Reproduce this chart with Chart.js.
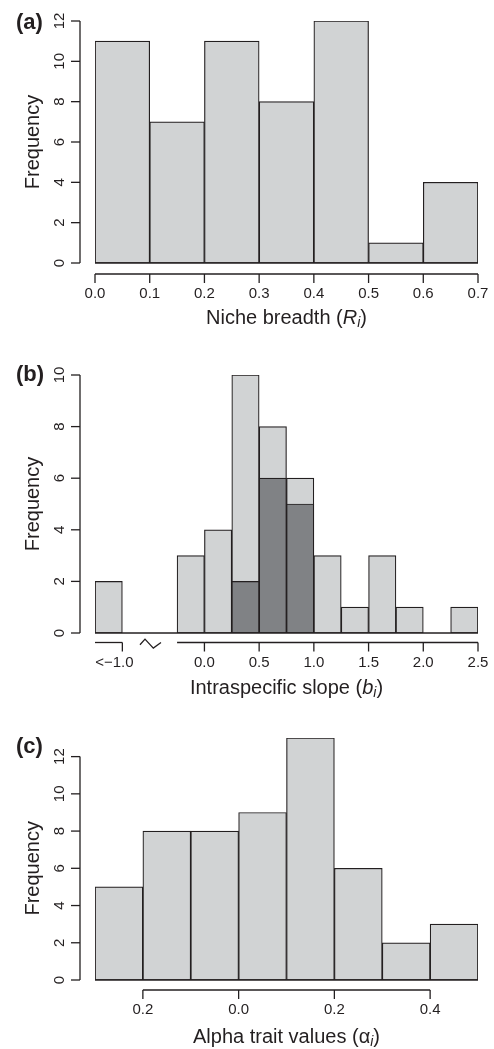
<!DOCTYPE html>
<html>
<head>
<meta charset="utf-8">
<script src="https://cdn.jsdelivr.net/npm/chart.js@4.4.1/dist/chart.umd.min.js"></script>
<style>
  body { margin: 0; background: #fff; }
  .panel { position: absolute; left: 0; width: 494px; }
</style>
</head>
<body>
<div class="panel" style="top:0;height:340px"><canvas id="chartA" width="494" height="340"></canvas></div>
<div class="panel" style="top:340px;height:360px"><canvas id="chartB" width="494" height="360"></canvas></div>
<div class="panel" style="top:700px;height:349px"><canvas id="chartC" width="494" height="349"></canvas></div>
<script>
// (a) niche breadth, bins of 0.1
const nicheBins = [0.05, 0.15, 0.25, 0.35, 0.45, 0.55, 0.65];
const nicheCounts = [11, 7, 11, 8, 12, 1, 4];
const nicheTicks = [0, 0.1, 0.2, 0.3, 0.4, 0.5, 0.6, 0.7];
const nicheTickLabels = ['0.0', '0.1', '0.2', '0.3', '0.4', '0.5', '0.6', '0.7'];
const nicheYTicks = [0, 2, 4, 6, 8, 10, 12];

// (b) intraspecific slope, bins of 0.25 (first bin is the collapsed "<-1.0" class)
const slopeBins = [-0.875, -0.625, -0.375, -0.125, 0.125, 0.375, 0.625, 0.875, 1.125, 1.375, 1.625, 1.875, 2.125, 2.375];
const slopeCounts = [2, 0, 0, 3, 4, 10, 8, 6, 3, 1, 3, 1, 0, 1];
const slopeDark = [0, 0, 0, 0, 0, 2, 6, 5, 0, 0, 0, 0, 0, 0];
const slopeTicks = [-0.75, 0, 0.5, 1, 1.5, 2, 2.5];
const slopeTickLabels = ['<\u22121.0', '0.0', '0.5', '1.0', '1.5', '2.0', '2.5'];
const slopeYTicks = [0, 2, 4, 6, 8, 10];

// (c) alpha trait values, bins of 0.1
const alphaBins = [-0.25, -0.15, -0.05, 0.05, 0.15, 0.25, 0.35, 0.45];
const alphaCounts = [5, 8, 8, 9, 13, 6, 2, 3];
const alphaTicks = [-0.2, 0, 0.2, 0.4];
const alphaTickLabels = ['0.2', '0.0', '0.2', '0.4'];
const alphaYTicks = [0, 2, 4, 6, 8, 10, 12];

const INK = '#231f20';
const LIGHT = '#d1d3d4';
const DARK = '#808285';
const FONT = '"Liberation Sans", Arial, sans-serif';

function drawRich(ctx, parts, cx, cy) {
  let total = 0;
  parts.forEach(p => { ctx.font = p.font; p.w = ctx.measureText(p.t).width; total += p.w; });
  let x = cx - total / 2;
  ctx.textAlign = 'left';
  ctx.textBaseline = 'middle';
  parts.forEach(p => { ctx.font = p.font; ctx.fillText(p.t, x, cy + (p.dy || 0)); x += p.w; });
}

function seg(ctx, x1, y1, x2, y2) {
  ctx.beginPath();
  ctx.moveTo(x1, y1);
  ctx.lineTo(x2, y2);
  ctx.stroke();
}

const histAxes = {
  id: 'histAxes',
  afterDraw(chart, args, o) {
    const { ctx, chartArea: area, scales: { x, y } } = chart;
    ctx.save();
    ctx.strokeStyle = INK;
    ctx.fillStyle = INK;
    ctx.lineWidth = 1.3;

    // zero line under empty bins
    const base = y.getPixelForValue(0);
    seg(ctx, area.left, base, area.right, base);

    // y axis
    const ax = area.left - 15;
    const yTop = y.getPixelForValue(o.yTicks[o.yTicks.length - 1]);
    seg(ctx, ax, base, ax, yTop);
    o.yTicks.forEach(v => {
      const py = y.getPixelForValue(v);
      seg(ctx, ax - 9, py, ax, py);
      ctx.save();
      ctx.translate(ax - 20, py);
      ctx.rotate(-Math.PI / 2);
      ctx.font = '15px ' + FONT;
      ctx.textAlign = 'center';
      ctx.textBaseline = 'middle';
      ctx.fillText(String(v), 0, 0);
      ctx.restore();
    });
    ctx.save();
    ctx.translate(ax - 47, (base + yTop) / 2);
    ctx.rotate(-Math.PI / 2);
    ctx.font = '20px ' + FONT;
    ctx.textAlign = 'center';
    ctx.textBaseline = 'middle';
    ctx.fillText('Frequency', 0, 0);
    ctx.restore();

    // x axis
    const axY = area.bottom + o.xGap;
    o.segments.forEach(s => seg(ctx, x.getPixelForValue(s[0]), axY, x.getPixelForValue(s[1]), axY));
    ctx.font = '15px ' + FONT;
    ctx.textAlign = 'center';
    ctx.textBaseline = 'middle';
    o.xTicks.forEach((v, i) => {
      const px = x.getPixelForValue(v);
      seg(ctx, px, axY, px, axY + 9);
      ctx.fillText(o.xTickLabels[i], px + (o.labelShift && o.labelShift[i] || 0), axY + 20);
    });

    if (o.breakAt) {
      const b = o.breakAt;
      ctx.beginPath();
      ctx.moveTo(x.getPixelForValue(b[0]), axY + 2.3);
      ctx.lineTo(x.getPixelForValue(b[1]), axY - 3.4);
      ctx.lineTo(x.getPixelForValue(b[2]), axY + 5.6);
      ctx.lineTo(x.getPixelForValue(b[3]), axY);
      ctx.stroke();
    }

    drawRich(ctx, o.title, (area.left + area.right) / 2, axY + o.titleGap);

    ctx.font = 'bold 22px ' + FONT;
    ctx.textAlign = 'left';
    ctx.textBaseline = 'middle';
    ctx.fillText(o.panel, 16, o.panelY);
    ctx.restore();
  }
};

function histogram(id, bins, binStep, series, xMin, xMax, yMax, padding, axes) {
  const datasets = series.map(s => ({
    data: bins.map((b, i) => ({ x: b, y: s.values[i] })),
    backgroundColor: s.color,
    borderColor: INK,
    borderWidth: 1.2,
    borderSkipped: false,
    barPercentage: 1,
    categoryPercentage: 1,
    grouped: false
  }));
  return new Chart(document.getElementById(id), {
    type: 'bar',
    data: { datasets },
    options: {
      responsive: false,
      animation: false,
      layout: { padding },
      plugins: { legend: { display: false }, tooltip: { enabled: false }, histAxes: axes },
      scales: {
        // tick step = bin width so bars span exactly one bin
        x: { type: 'linear', offset: false, min: xMin, max: xMax, display: false, ticks: { stepSize: binStep } },
        y: { min: 0, max: yMax, display: false }
      }
    },
    plugins: [histAxes]
  });
}

const TF = '20px ' + FONT;
const TI = 'italic 20px ' + FONT;
const TS = 'italic 14px ' + FONT;

histogram('chartA', nicheBins, 0.1, [{ values: nicheCounts, color: LIGHT }], 0, 0.7, 12,
  { left: 95, right: 16, top: 21, bottom: 77 },
  {
    yTicks: nicheYTicks, xTicks: nicheTicks, xTickLabels: nicheTickLabels,
    segments: [[0, 0.7]], xGap: 11, titleGap: 44, panel: '(a)', panelY: 23,
    title: [{ t: 'Niche breadth (', font: TF }, { t: 'R', font: TI }, { t: 'i', font: TS, dy: 5 }, { t: ')', font: TF }]
  });

// dark subset listed first so it is painted on top of the totals
histogram('chartB', slopeBins, 0.25, [{ values: slopeDark, color: DARK }, { values: slopeCounts, color: LIGHT }], -1, 2.5, 10,
  { left: 95, right: 16, top: 35, bottom: 67 },
  {
    yTicks: slopeYTicks, xTicks: slopeTicks, xTickLabels: slopeTickLabels,
    labelShift: [-8, 0, 0, 0, 0, 0, 0],
    segments: [[-1, -0.75], [-0.25, 2.5]], breakAt: [-0.589, -0.543, -0.467, -0.397],
    xGap: 9.5, titleGap: 46, panel: '(b)', panelY: 35,
    title: [{ t: 'Intraspecific slope (', font: TF }, { t: 'b', font: TI }, { t: 'i', font: TS, dy: 5 }, { t: ')', font: TF }]
  });

histogram('chartC', alphaBins, 0.1, [{ values: alphaCounts, color: LIGHT }], -0.3, 0.5, 13,
  { left: 95, right: 16, top: 38, bottom: 69 },
  {
    yTicks: alphaYTicks, xTicks: alphaTicks, xTickLabels: alphaTickLabels,
    segments: [[-0.2, 0.4]], xGap: 10, titleGap: 47, panel: '(c)', panelY: 47,
    title: [{ t: 'Alpha trait values (', font: TF }, { t: '\u03b1', font: TF }, { t: 'i', font: TS, dy: 5 }, { t: ')', font: TF }]
  });
</script>
</body>
</html>
